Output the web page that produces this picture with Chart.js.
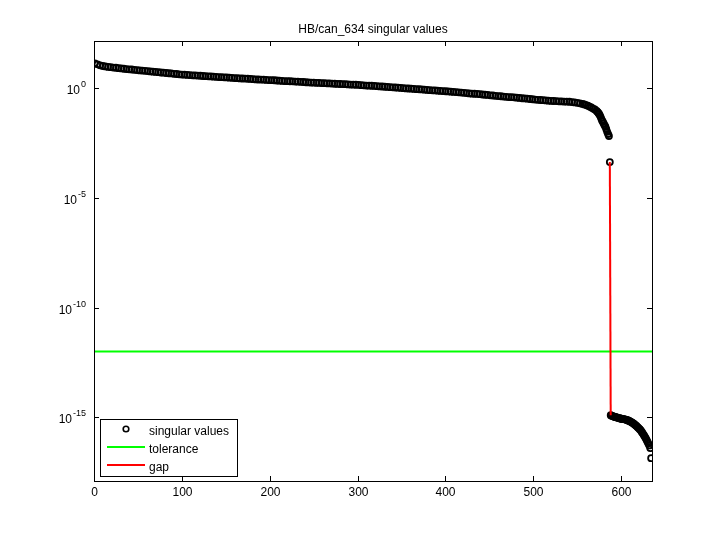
<!DOCTYPE html>
<html><head><meta charset="utf-8">
<script src="https://cdn.jsdelivr.net/npm/chart.js@4"></script>
<style>html,body{margin:0;padding:0;background:#fff}#wrap{width:720px;height:540px}</style>
</head><body><div id="wrap"><canvas id="c" width="720" height="540"></canvas></div>
<script>
const titleText = "HB/can_634 singular values";
// main branch, every 3rd index (1..556)
const mainStartIndex = 1, mainStep = 3;
const mainLog10 = [1.14,1.09,1.05,1.02,1.00,0.98,0.965,0.95,0.94,0.92,0.91,0.895,0.88,0.87,0.86,0.845,0.835,0.82,0.81,0.80,0.79,0.775,0.76,0.75,0.74,0.725,0.715,0.70,0.69,0.68,0.665,0.655,0.64,0.63,0.625,0.615,0.605,0.595,0.59,0.585,0.575,0.565,0.555,0.55,0.545,0.535,0.525,0.515,0.51,0.505,0.50,0.49,0.48,0.47,0.465,0.455,0.45,0.445,0.44,0.43,0.42,0.41,0.405,0.40,0.395,0.385,0.38,0.375,0.37,0.36,0.35,0.34,0.335,0.33,0.325,0.32,0.31,0.305,0.30,0.29,0.28,0.27,0.265,0.26,0.255,0.25,0.24,0.235,0.23,0.225,0.22,0.21,0.205,0.20,0.195,0.19,0.18,0.175,0.17,0.165,0.16,0.145,0.14,0.13,0.125,0.12,0.11,0.10,0.09,0.085,0.075,0.065,0.055,0.05,0.04,0.03,0.02,0.01,0.00,-0.005,-0.015,-0.025,-0.035,-0.04,-0.05,-0.06,-0.07,-0.08,-0.09,-0.095,-0.105,-0.115,-0.125,-0.13,-0.14,-0.15,-0.16,-0.17,-0.18,-0.19,-0.205,-0.215,-0.23,-0.24,-0.245,-0.255,-0.265,-0.28,-0.29,-0.30,-0.315,-0.325,-0.34,-0.35,-0.36,-0.375,-0.385,-0.395,-0.40,-0.41,-0.425,-0.435,-0.45,-0.46,-0.47,-0.485,-0.495,-0.51,-0.52,-0.53,-0.54,-0.55,-0.56,-0.57,-0.575,-0.58,-0.59,-0.595,-0.60,-0.605,-0.61,-0.625,-0.64,-0.66,-0.68,-0.71];
// knee region
const kneeIndex = [558,560,562,564,566,568,570,572,573,574,575,576,577,578,579,580,581,582,583,584,585,586,587];
const kneeLog10 = [-0.73,-0.76,-0.79,-0.83,-0.87,-0.92,-0.96,-1.03,-1.07,-1.12,-1.18,-1.25,-1.35,-1.45,-1.52,-1.60,-1.68,-1.75,-1.86,-1.98,-2.08,-2.17,-3.36];
// tail 588..634
const tailStartIndex = 588;
const tailLog10 = [-14.90,-14.92,-14.94,-14.95,-14.97,-14.98,-14.99,-15.00,-15.02,-15.03,-15.04,-15.05,-15.06,-15.07,-15.08,-15.08,-15.09,-15.10,-15.11,-15.13,-15.14,-15.16,-15.18,-15.20,-15.23,-15.25,-15.28,-15.31,-15.35,-15.38,-15.42,-15.46,-15.50,-15.54,-15.58,-15.64,-15.70,-15.76,-15.82,-15.89,-15.96,-16.04,-16.12,-16.20,-16.28,-16.40,-16.86];
const tolerance = 1e-12;
const xTicks = [0,100,200,300,400,500,600];
const yTickExp = [0,-5,-10,-15];
const legendLabels = ["singular values","tolerance","gap"];

const svPts = [];
mainLog10.forEach((v,i)=>svPts.push({x:mainStartIndex+i*mainStep, y:Math.pow(10,v)}));
kneeLog10.forEach((v,i)=>svPts.push({x:kneeIndex[i], y:Math.pow(10,v)}));
tailLog10.forEach((v,i)=>svPts.push({x:tailStartIndex+i, y:Math.pow(10,v)}));
const gapPts = [{x:kneeIndex[kneeIndex.length-1], y:Math.pow(10,kneeLog10[kneeLog10.length-1])},{x:tailStartIndex, y:Math.pow(10,tailLog10[0])}];
const tolPts = [{x:0,y:tolerance},{x:635,y:tolerance}];
const FONT = "Liberation Sans, Arial, sans-serif";

const axesPlugin = {
  id:'axesPlugin',
  afterDraw(chart){
    const ctx = chart.ctx, a = chart.chartArea, xs = chart.scales.x, ys = chart.scales.y;
    ctx.save();
    ctx.strokeStyle='#000'; ctx.lineWidth=1;
    ctx.strokeRect(Math.round(a.left)+0.5, Math.round(a.top)+0.5, Math.round(a.right-a.left), Math.round(a.bottom-a.top));
    ctx.fillStyle='#000';
    ctx.font = "12px "+FONT;
    ctx.textAlign='center'; ctx.textBaseline='top';
    xTicks.forEach(t=>{
      const px = Math.round(xs.getPixelForValue(t))+0.5;
      ctx.beginPath(); ctx.moveTo(px,a.bottom); ctx.lineTo(px,a.bottom-5);
      ctx.moveTo(px,a.top); ctx.lineTo(px,a.top+5); ctx.stroke();
      ctx.fillText(String(t), px, a.bottom+6);
    });
    yTickExp.forEach(e=>{
      const py = Math.round(ys.getPixelForValue(Math.pow(10,e)))+0.5;
      ctx.beginPath(); ctx.moveTo(a.left,py); ctx.lineTo(a.left+5,py);
      ctx.moveTo(a.right,py); ctx.lineTo(a.right-5,py); ctx.stroke();
      const sup = String(e);
      ctx.font = "9px "+FONT;
      const sw = ctx.measureText(sup).width;
      ctx.textAlign='left'; ctx.textBaseline='alphabetic';
      ctx.fillText(sup, a.left-8-sw, py-2);
      ctx.font = "12px "+FONT;
      const bw = ctx.measureText("10").width;
      ctx.fillText("10", a.left-9-sw-bw, py+5);
    });
    ctx.textAlign='center'; ctx.textBaseline='alphabetic';
    ctx.font = "12px "+FONT;
    ctx.fillText(titleText, (a.left+a.right)/2, 33);
    const lx=100, ly=419, lw=137, lh=57;
    ctx.fillStyle='#fff'; ctx.fillRect(lx,ly,lw,lh);
    ctx.strokeStyle='#000'; ctx.strokeRect(lx+0.5,ly+0.5,lw,lh);
    ctx.fillStyle='#000'; ctx.textAlign='left'; ctx.textBaseline='middle';
    ctx.beginPath(); ctx.arc(126,429,2.8,0,Math.PI*2); ctx.lineWidth=1.6; ctx.stroke();
    ctx.fillText(legendLabels[0],149,432);
    ctx.lineWidth=2;
    ctx.strokeStyle='#00ff00'; ctx.beginPath(); ctx.moveTo(107,447); ctx.lineTo(145,447); ctx.stroke();
    ctx.fillText(legendLabels[1],149,450);
    ctx.strokeStyle='#ff0000'; ctx.beginPath(); ctx.moveTo(107,465); ctx.lineTo(145,465); ctx.stroke();
    ctx.fillText(legendLabels[2],149,468);
    ctx.restore();
  }
};

new Chart(document.getElementById('c'), {
  type:'scatter',
  data:{datasets:[
    {label:'singular values', data:svPts, showLine:false, pointRadius:3, pointBorderColor:'#000', pointBackgroundColor:'rgba(255,255,255,0)', pointBorderWidth:1.8, order:3},
    {label:'tolerance', data:tolPts, showLine:true, borderColor:'#00ff00', borderWidth:2, pointRadius:0, order:2},
    {label:'gap', data:gapPts, showLine:true, borderColor:'#ff0000', borderWidth:2, pointRadius:0, order:1}
  ]},
  options:{
    responsive:false, animation:false, devicePixelRatio:1,
    layout:{padding:{left:94,right:68,top:41,bottom:59}},
    plugins:{legend:{display:false},title:{display:false},tooltip:{enabled:false}},
    scales:{
      x:{type:'linear',min:0,max:635,display:false},
      y:{type:'logarithmic',min:Math.pow(10,-17.9),max:Math.pow(10,2.16),display:false}
    }
  },
  plugins:[axesPlugin]
});
</script></body></html>
